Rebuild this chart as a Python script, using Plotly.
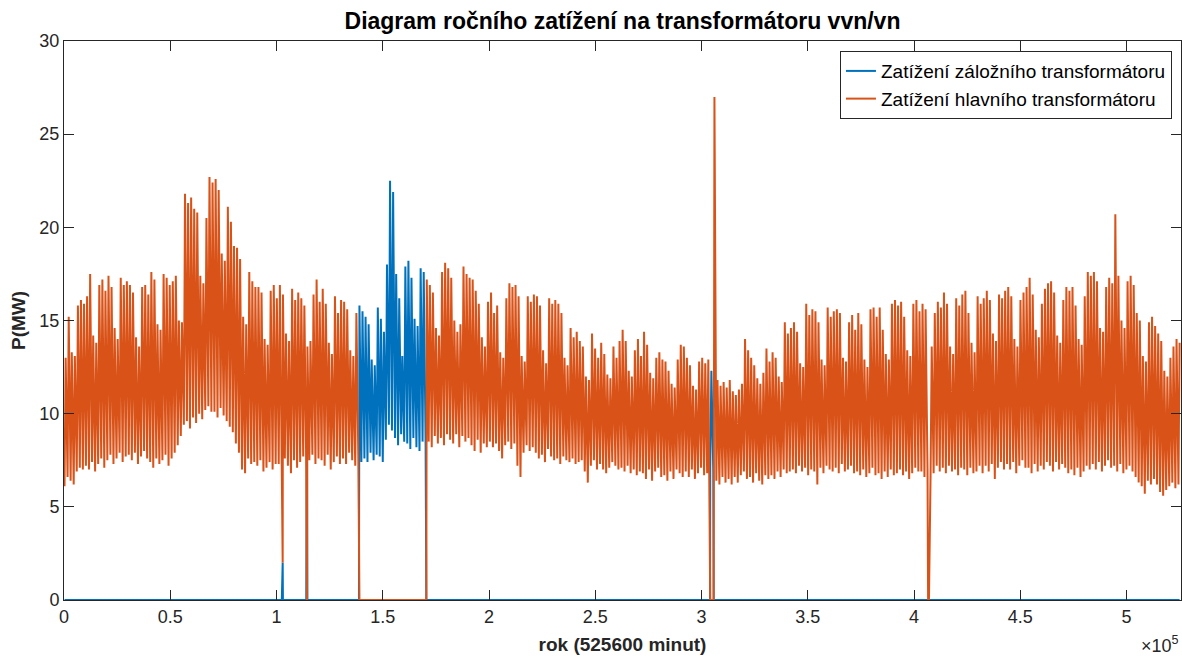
import plotly.graph_objects as go

# Daily load extremes of the substation over one year (MW), one row per week.
PEAK_MW = [
    13.0, 15.2, 13.3, 13.1, 15.8, 16.1, 15.9,
    16.3, 17.5, 14.2, 13.8, 16.9, 17.2, 16.6,
    17.4, 16.8, 14.6, 14.0, 17.3, 16.9, 17.1,
    16.9, 16.5, 14.1, 13.6, 16.8, 16.9, 16.4,
    17.6, 17.2, 14.8, 14.5, 17.5, 17.3, 16.9,
    17.1, 17.4, 15.0, 14.9, 21.8, 21.3, 21.6,
    21.0, 20.8, 17.4, 17.0, 20.5, 22.7, 22.4,
    22.6, 22.0, 18.6, 18.2, 21.1, 20.3, 19.0,
    18.9, 18.3, 15.2, 14.8, 17.6, 17.1, 16.8,
    16.8, 16.5, 14.0, 13.7, 16.6, 16.9, 16.2,
    16.9, 16.4, 14.3, 13.9, 16.7, 16.1, 16.5,
    16.2, 15.8, 13.6, 13.9, 16.4, 17.2, 16.0,
    16.7, 15.9, 13.8, 13.2, 16.3, 15.4, 16.1,
    16.0, 15.6, 13.4, 13.1, 15.4, 15.8, 15.5,
    15.2, 14.8, 12.9, 12.6, 15.7, 15.1, 14.4,
    18.0, 22.5, 21.9, 17.5, 16.2, 13.1, 17.9,
    18.2, 17.3, 15.1, 14.7, 17.8, 17.6, 17.2,
    16.9, 16.5, 14.6, 14.2, 17.6, 18.1, 17.8,
    17.3, 15.0, 14.4, 14.8, 17.9, 17.5, 17.3,
    17.2, 16.6, 15.9, 14.1, 13.6, 16.0, 16.5,
    15.4, 15.8, 13.3, 13.0, 16.2, 17.0, 16.8,
    16.9, 16.3, 13.1, 12.8, 16.3, 16.0, 16.4,
    16.3, 15.8, 13.4, 12.7, 16.2, 15.9, 16.1,
    15.9, 15.4, 13.0, 12.6, 14.6, 14.1, 14.4,
    13.9, 13.6, 12.0, 11.8, 14.3, 13.5, 13.0,
    13.8, 13.2, 12.1, 11.9, 13.6, 13.0, 13.9,
    14.5, 13.9, 12.3, 12.0, 13.4, 14.0, 13.1,
    14.4, 13.7, 12.2, 11.9, 13.0, 13.3, 12.9,
    12.8, 12.3, 11.6, 11.4, 12.9, 13.7, 13.6,
    13.0, 12.6, 11.5, 11.3, 12.8, 13.0, 12.7,
    12.9, 12.3, 27.0, 11.8, 11.5, 11.7, 11.4,
    11.8, 11.2, 11.0, 11.3, 11.6, 14.0, 13.4,
    13.0, 12.6, 11.9, 11.6, 12.2, 13.5, 12.8,
    13.3, 13.0, 12.0, 11.7, 14.9, 14.3, 14.6,
    14.9, 14.4, 12.7, 12.5, 15.9, 15.3, 15.6,
    15.5, 14.9, 12.9, 12.6, 15.7, 15.2, 15.5,
    15.6, 15.4, 13.0, 12.8, 14.9, 15.3, 14.5,
    15.4, 14.8, 12.9, 12.5, 15.6, 15.7, 15.2,
    15.7, 14.5, 13.2, 12.9, 15.9, 16.1, 15.8,
    16.0, 15.2, 13.4, 13.1, 15.9, 16.1, 15.5,
    15.9, 15.6, 12.8, 13.6, 15.4, 16.0, 15.7,
    16.5, 15.9, 13.6, 13.2, 16.2, 15.8, 16.4,
    16.6, 15.4, 13.8, 13.3, 16.3, 15.9, 16.2,
    16.6, 16.1, 14.3, 13.9, 16.4, 16.2, 16.6,
    16.8, 16.3, 14.0, 13.6, 16.1, 16.5, 16.8,
    17.3, 16.4, 14.5, 14.1, 15.9, 16.7, 17.0,
    17.1, 16.5, 14.2, 13.8, 16.1, 16.8, 16.6,
    16.8, 15.8, 14.0, 13.7, 16.3, 17.6, 17.4,
    17.6, 17.1, 14.6, 14.4, 16.8, 17.3, 17.0,
    20.7, 17.4, 15.0, 14.6, 17.1, 17.4, 16.9,
    15.4, 15.0, 13.1, 12.8, 14.9, 15.2, 14.7,
    14.3, 13.9, 12.3, 12.0, 13.0, 13.6, 14.0,
    13.8,
]

TROUGH_MW = [
    6.1, 6.6, 6.4, 6.2, 6.9, 7.1, 7.0,
    7.2, 7.0, 7.4, 6.9, 7.3, 7.6, 7.1,
    7.5, 7.8, 7.3, 7.6, 7.9, 7.4, 7.7,
    7.8, 7.5, 7.9, 7.3, 7.7, 8.0, 7.6,
    7.4, 7.1, 7.6, 7.3, 7.5, 7.8, 7.2,
    7.6, 7.9, 8.3, 8.8, 9.4, 9.6, 9.2,
    9.8, 9.5, 10.0, 9.7, 10.2, 10.4, 10.1,
    10.1, 9.8, 10.3, 9.9, 9.6, 9.3, 9.0,
    8.4, 7.9, 7.0, 6.8, 7.6, 7.3, 7.4,
    7.2, 7.5, 6.9, 7.1, 7.4, 7.0, 7.3,
    7.3, 7.0, 7.6, 7.2, 6.8, 7.5, 7.1,
    7.4, 7.7, 7.1, 7.5, 7.8, 7.3, 7.6,
    7.5, 7.2, 7.8, 7.0, 7.4, 7.7, 7.3,
    7.6, 7.3, 7.9, 7.5, 7.2, 7.8, 7.4,
    7.6, 7.4, 7.9, 7.5, 7.8, 7.7, 7.4,
    8.6, 9.4, 9.1, 8.7, 8.3, 8.9, 8.5,
    8.4, 8.1, 8.7, 8.2, 8.0, 8.5, 8.3,
    8.5, 8.2, 8.8, 8.4, 8.7, 8.3, 8.9,
    8.6, 8.4, 8.9, 8.2, 8.8, 8.5, 8.7,
    8.3, 8.0, 8.6, 7.9, 8.4, 8.2, 8.5,
    8.2, 8.4, 8.0, 7.6, 8.3, 8.5, 8.1,
    8.4, 7.2, 6.6, 7.9, 8.3, 8.0, 8.2,
    7.9, 7.6, 7.8, 7.4, 8.1, 7.7, 7.5,
    7.6, 7.3, 7.7, 7.5, 7.4, 7.6, 7.3,
    7.4, 7.5, 6.9, 6.3, 7.2, 7.5, 7.0,
    7.3, 7.0, 6.8, 7.1, 7.4, 7.2, 7.0,
    7.1, 6.9, 7.2, 6.8, 7.0, 6.7, 6.9,
    6.8, 6.5, 7.0, 6.4, 6.9, 7.1, 6.6,
    6.7, 6.4, 6.9, 6.5, 7.0, 6.8, 6.6,
    6.9, 6.6, 7.0, 6.5, 6.8, 7.1, 6.7,
    6.8, 7.1, 6.9, 6.4, 6.2, 6.6, 6.3,
    6.5, 6.2, 6.6, 6.3, 6.7, 6.9, 6.5,
    6.6, 6.3, 6.8, 6.4, 6.2, 6.7, 6.5,
    6.7, 6.5, 6.9, 6.6, 7.0, 6.8, 6.9,
    7.0, 6.8, 7.2, 6.9, 7.1, 6.7, 7.0,
    6.9, 6.2, 7.1, 6.8, 7.2, 7.0, 6.9,
    7.1, 6.8, 7.3, 6.9, 7.0, 7.2, 6.8,
    6.9, 6.7, 7.0, 6.6, 6.8, 7.1, 6.7,
    6.8, 6.5, 6.9, 6.6, 7.0, 6.7, 6.8,
    7.0, 6.7, 6.9, 6.5, 6.8, 7.1, 6.9,
    6.9, 6.6, 7.0, 6.7, 6.8, 7.2, 6.9,
    7.1, 6.8, 7.2, 6.9, 7.0, 6.7, 7.1,
    7.0, 6.7, 7.1, 6.8, 6.9, 7.2, 6.8,
    7.2, 6.9, 7.3, 6.5, 7.1, 7.4, 7.0,
    7.3, 7.0, 7.4, 6.8, 7.2, 7.5, 7.1,
    7.1, 6.8, 7.3, 6.9, 7.2, 7.0, 7.4,
    7.2, 6.9, 7.4, 7.0, 7.3, 7.1, 6.8,
    7.0, 6.7, 7.1, 6.6, 6.9, 7.2, 7.0,
    7.3, 7.0, 7.4, 6.9, 7.2, 7.5, 7.1,
    7.2, 6.9, 7.3, 6.8, 7.0, 7.2, 6.9,
    6.6, 6.3, 6.1, 5.7, 6.4, 6.2, 6.5,
    6.2, 5.8, 5.6, 5.9, 6.1, 6.3, 6.0,
    6.2,
]

# Intervals (minute of year) when the load was carried by the backup transformer
BACKUP_PERIODS = [(138800, 170500), (304000, 305700)]
# Intervals when neither transformer carried load
OUTAGES = [(406600, 407000)]
# Short switching events: (minute, main transformer MW, backup transformer MW)
SWITCH_EVENTS = [(102900, 2.0, 2.0), (114300, 0.0, 11.0)]

MINUTES_PER_DAY = 1440
TROUGH_MINUTE = 240   # night minimum
PEAK_MINUTE = 780     # daytime maximum
YEAR_MINUTES = 525600

X_TICKS = [0, 50000, 100000, 150000, 200000, 250000, 300000, 350000, 400000, 450000, 500000]
X_TICK_TEXT = ["0", "0.5", "1", "1.5", "2", "2.5", "3", "3.5", "4", "4.5", "5"]
Y_TICKS = [0, 5, 10, 15, 20, 25, 30]


def inside(t, periods):
    return any(a < t < b for a, b in periods)


rows = []
for d in range(len(PEAK_MW)):
    for minute, load in ((TROUGH_MINUTE, TROUGH_MW[d]), (PEAK_MINUTE, PEAK_MW[d])):
        t = d * MINUTES_PER_DAY + minute
        if inside(t, OUTAGES):
            rows.append((t, 0.0, 0.0))
        elif inside(t, BACKUP_PERIODS):
            rows.append((t, 0.0, load))
        else:
            rows.append((t, load, 0.0))
for a, b in BACKUP_PERIODS + OUTAGES:
    rows.append((a, 0.0, 0.0))
    rows.append((b, 0.0, 0.0))
rows.extend(SWITCH_EVENTS)
rows.sort(key=lambda r: r[0])

t_min = [r[0] for r in rows]
main_mw = [r[1] for r in rows]
backup_mw = [r[2] for r in rows]

BLUE = "#0072BD"
ORANGE = "#D95319"
AXIS = "#262626"
FONT = "Liberation Sans, Arial, Helvetica, sans-serif"

fig = go.Figure()
fig.add_trace(go.Scatter(
    x=t_min, y=backup_mw, mode="lines", name="Zatížení záložního transformátoru",
    line=dict(color=BLUE, width=2),
))
fig.add_trace(go.Scatter(
    x=t_min, y=main_mw, mode="lines", name="Zatížení hlavního transformátoru",
    line=dict(color=ORANGE, width=2),
))

axis_common = dict(
    showline=True, linecolor=AXIS, linewidth=1, mirror="ticks",
    ticks="inside", ticklen=10, tickcolor=AXIS, tickwidth=1,
    showgrid=False, zeroline=False,
    tickfont=dict(family=FONT, size=18, color=AXIS),
)

fig.update_layout(
    width=1182, height=659,
    margin=dict(l=64, r=1, t=41, b=59),
    paper_bgcolor="white", plot_bgcolor="white",
    font=dict(family=FONT, color=AXIS),
    title=dict(
        text="<b>Diagram ročního zatížení na transformátoru vvn/vn</b>",
        xref="paper", x=0.5, xanchor="center",
        yref="container", y=0.968, yanchor="middle",
        font=dict(family=FONT, size=23, color="black"),
    ),
    xaxis=dict(
        range=[0, YEAR_MINUTES], tickvals=X_TICKS, ticktext=X_TICK_TEXT,
        title=dict(text="<b>rok (525600 minut)</b>", font=dict(family=FONT, size=19, color=AXIS), standoff=12),
        **axis_common,
    ),
    yaxis=dict(
        range=[0, 30], tickvals=Y_TICKS,
        title=dict(text="<b>P(MW)</b>", font=dict(family=FONT, size=19, color=AXIS), standoff=8),
        **axis_common,
    ),
    legend=dict(
        x=0.9919, xanchor="right", y=0.982, yanchor="top",
        bgcolor="white", bordercolor=AXIS, borderwidth=1,
        font=dict(family=FONT, size=19, color="black"),
    ),
    showlegend=True,
)

fig.add_annotation(
    text="×10<sup>5</sup>", xref="paper", yref="paper",
    x=1.0, xanchor="right", y=-0.104, yanchor="bottom",
    showarrow=False, font=dict(family=FONT, size=18, color=AXIS),
)

fig.write_html("out.html")
